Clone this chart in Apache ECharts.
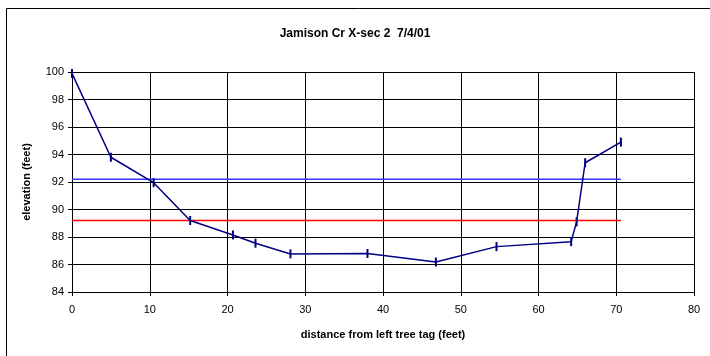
<!DOCTYPE html>
<html>
<head>
<meta charset="utf-8">
<script src="https://cdn.jsdelivr.net/npm/echarts@6/dist/echarts.min.js"></script>
<style>html,body{margin:0;padding:0;background:#fff;}#c{width:710px;height:356px;}</style>
</head>
<body>
<div id="c"></div>
<script>
var titleText = 'Jamison Cr X-sec 2  7/4/01';
var xName = 'distance from left tree tag (feet)';
var yName = 'elevation (feet)';
var distance = [0, 5.0, 10.5, 15.2, 20.7, 23.6, 28.1, 38.0, 46.8, 54.6, 64.2, 64.9, 66.0, 70.6];
var elevation = [99.9, 93.8, 91.95, 89.2, 88.15, 87.55, 86.77, 86.8, 86.18, 87.3, 87.66, 89.1, 93.4, 94.9];
var blueLineX = [0, 70.6];
var blueLineY = [92.2, 92.2];
var redLineX = [0, 70.6];
var redLineY = [89.2, 89.2];

function pairs(xs, ys) { return xs.map(function (x, i) { return [x, ys[i]]; }); }

var chart = echarts.init(document.getElementById('c'));
chart.setOption({
  animation: false,
  backgroundColor: '#fff',
  textStyle: { fontFamily: 'Liberation Sans, Arial, sans-serif' },
  title: {
    text: titleText, left: 'center', top: 23,
    textStyle: { fontSize: 12, fontWeight: 'bold', color: '#000', fontFamily: 'Liberation Sans, Arial, sans-serif' }
  },
  graphic: [{
    type: 'rect', left: 4, top: 6, z: -1,
    shape: { width: 720, height: 360 },
    style: { fill: 'none', stroke: '#000', lineWidth: 1 }
  }],
  grid: { left: 72, right: 16, top: 72, bottom: 64 },
  xAxis: {
    type: 'value', min: 0, max: 80, interval: 10,
    name: xName, nameLocation: 'middle', nameGap: 37,
    nameTextStyle: { fontSize: 11, fontWeight: 'bold', color: '#000' },
    axisLine: { show: true, lineStyle: { color: '#000', width: 1 } },
    axisTick: { show: true, length: 4, lineStyle: { color: '#000' } },
    axisLabel: { fontSize: 11, color: '#000', margin: 12 },
    splitLine: { show: true, lineStyle: { color: '#000', width: 1 } }
  },
  yAxis: {
    type: 'value', min: 84, max: 100, interval: 2,
    name: yName, nameLocation: 'middle', nameGap: 40,
    nameTextStyle: { fontSize: 11, fontWeight: 'bold', color: '#000' },
    axisLine: { show: true, lineStyle: { color: '#000', width: 1 } },
    axisTick: { show: true, length: 4, lineStyle: { color: '#000' } },
    axisLabel: { fontSize: 11, color: '#000', margin: 8 },
    splitLine: { show: true, lineStyle: { color: '#000', width: 1 } }
  },
  series: [
    {
      type: 'line', data: pairs(blueLineX, blueLineY), showSymbol: false, symbol: 'none',
      lineStyle: { color: '#3535ff', width: 1.5 }, z: 2
    },
    {
      type: 'line', data: pairs(redLineX, redLineY), showSymbol: false, symbol: 'none',
      lineStyle: { color: '#ff0000', width: 1.5 }, z: 2
    },
    {
      type: 'line', data: pairs(distance, elevation),
      symbol: 'rect', symbolSize: [2, 9], showSymbol: true,
      itemStyle: { color: '#000080' },
      lineStyle: { color: '#000080', width: 1.5 }, z: 3
    }
  ]
});
</script>
</body>
</html>
